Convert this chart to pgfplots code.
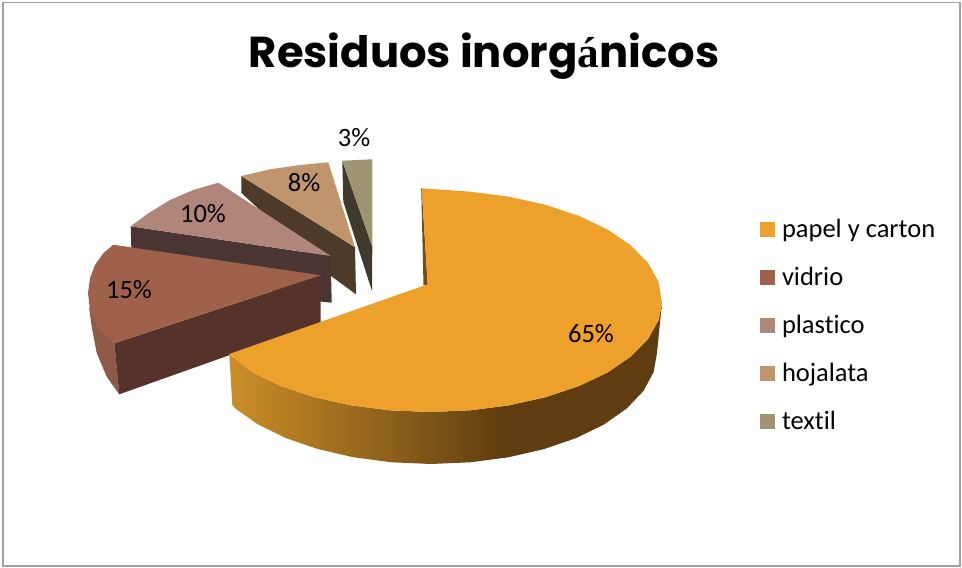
\documentclass[border=0pt]{standalone}
\usepackage{pgfplots}
\pgfplotsset{compat=1.18}
\usepackage{fontspec}
\setmainfont{Carlito}[Ligatures=NoCommon]
\newfontfamily\titlefont{Poppins}[BoldFont={Poppins Bold}]
\newfontfamily\titleserif{Liberation Serif}
\definecolor{wallA}{HTML}{CB8E28}
\definecolor{wallB}{HTML}{5F3D10}
\pgfdeclarehorizontalshading{wall}{100bp}{color(0bp)=(wallA); color(25bp)=(wallA); color(57bp)=(wallB); color(75bp)=(wallB); color(100bp)=(wallB)}
\definecolor{cO}{HTML}{EDA02A}
\definecolor{cV}{HTML}{A0614A}
\definecolor{cVw}{HTML}{56332A}
\definecolor{cVo}{HTML}{8E5946}
\definecolor{cP}{HTML}{B0867A}
\definecolor{cPw}{HTML}{4A3533}
\definecolor{cH}{HTML}{C0956B}
\definecolor{cHw}{HTML}{4D3A28}
\definecolor{cT}{HTML}{9F9471}
\definecolor{cTw}{HTML}{3F3A2E}
\definecolor{frame}{HTML}{A0A0A0}
\newcommand{\lbl}{\fontsize{26.5}{26.5}\selectfont}
\begin{document}
\begin{tikzpicture}
\begin{axis}[
  scale only axis, width=962pt, height=568pt,
  xmin=0, xmax=962, ymin=0, ymax=568, y dir=reverse,
  hide axis, clip=false,
  legend image code/.code={\path[draw=none,#1] (0pt,-7.5pt) rectangle (15pt,7.5pt);},
  legend style={draw=none, fill=none, at={(axis cs:760,205.5)}, anchor=north west, inner sep=0pt, outer sep=0pt,
    nodes={inner sep=0pt, minimum height=48pt, font=\lbl},
    /tikz/every odd column/.append style={column sep=7pt}},
  legend cell align=left,
]
% frame
\addplot[draw=none, forget plot] coordinates {(0,0) (962,568)};
\addplot[draw=frame, line width=1.5pt, fill=white, forget plot] coordinates {(3,2.5) (3,566) (960,566) (960,2.5)} -- cycle;
\addlegendimage{fill=cO}\addlegendentry{papel y carton}
\addlegendimage{fill=cV}\addlegendentry{vidrio}
\addlegendimage{fill=cP}\addlegendentry{plastico}
\addlegendimage{fill=cH}\addlegendentry{hojalata}
\addlegendimage{fill=cT}\addlegendentry{textil}
% textil
\addplot[fill=cTw, draw=none, forget plot] coordinates {(342.3,160.7) (372.3,246.7) (372,291) (343.3,201.7)} -- cycle;
\addplot[fill=cT, draw=none, forget plot] coordinates {(372.3,246.7) (372.3,159.3) (342.3,160.7)} -- cycle;
% hojalata
\addplot[fill=cHw, draw=none, forget plot] coordinates {(241.3,176) (355,247.3) (356,294.3) (331,276) (241.5,193)} -- cycle;
\addplot[fill=cH, draw=none, forget plot] coordinates {(355,247.3) (328.3,162.3) (300,165) (270,169.3) (241.3,176)} -- cycle;
% plastico
\addplot[fill=cPw, draw=none, forget plot] coordinates {(130.7,226.3) (330.7,256) (331.7,302.7) (320,301.5) (131.7,260)} -- cycle;
\addplot[fill=cP, draw=none, forget plot] coordinates {(330.7,256) (218.3,182.7) (193.3,190) (170,200) (148.3,213.3) (130.7,226.3)} -- cycle;
% vidrio
\addplot[fill=cVo, draw=none, forget plot] coordinates {(89,306.7) (91.7,326.7) (96.7,353) (106.7,376.7) (119.3,394.3) (114.3,343.3)} -- cycle;
\addplot[fill=cVw, draw=none, forget plot] coordinates {(320.7,275.3) (114.3,343.3) (119.3,394.3) (320.7,322.7)} -- cycle;
\addplot[fill=cV, draw=none, forget plot] coordinates {(320.7,275.3) (113.3,244.7) (103.3,253.3) (95,265) (90,278.3) (88,293.3) (90,310) (96.7,326.7) (114.3,343.3)} -- cycle;
% papel y carton
\addplot[shade, shading=wall, draw=none, forget plot] coordinates {(229.3,354) (252.3,372.4) (280.9,386) (314,397.1) (350.7,405.3) (389.7,410.3) (430,412) (470.3,410.3) (509.3,405.3) (546,397.1) (579.1,386) (607.7,372.4) (630.9,356.5) (648,339) (658.5,320.3) (661.7,305)
 (657,353) (653.6,372.3) (643.4,391) (626.7,408.5) (604.1,424.4) (576.3,438) (544,449.1) (508.3,457.3) (470.2,462.3) (431,464) (391.8,462.3) (353.7,457.3) (318,449.1) (285.7,438) (257.9,424.4) (235.3,408.5) (232.3,405)} -- cycle;
\addplot[fill=wallB!85!cO, draw=none, forget plot] coordinates {(421.2,188) (423.5,285) (427.7,285) (421.7,188.3)} -- cycle;
\addplot[fill=cO, draw=none, forget plot] coordinates {(427.7,284.3) (421.7,188.3) (470.3,191.7) (509.3,196.7) (546,204.9) (579.1,216) (607.7,229.6) (630.9,245.5) (648,263) (658.5,281.7) (662,303) (658.5,320.3) (648,339) (630.9,356.5) (607.7,372.4) (579.1,386) (546,397.1) (509.3,405.3) (470.3,410.3) (430,412) (389.7,410.3) (350.7,405.3) (314,397.1) (280.9,386) (252.3,372.4) (229.3,354)} -- cycle;
% labels
\node[font=\lbl] at (axis cs:354,138) {3\%};
\node[font=\lbl] at (axis cs:304,183) {8\%};
\node[font=\lbl] at (axis cs:203,214) {10\%};
\node[font=\lbl] at (axis cs:129,290) {15\%};
\node[font=\lbl] at (axis cs:591,334) {65\%};
\node[anchor=base, inner sep=0pt, font=\titlefont\bfseries\fontsize{43.3}{44}\selectfont] at (axis cs:484,67) {Residuos inorg{\titleserif\bfseries á}nicos};
\end{axis}
\end{tikzpicture}
\end{document}
